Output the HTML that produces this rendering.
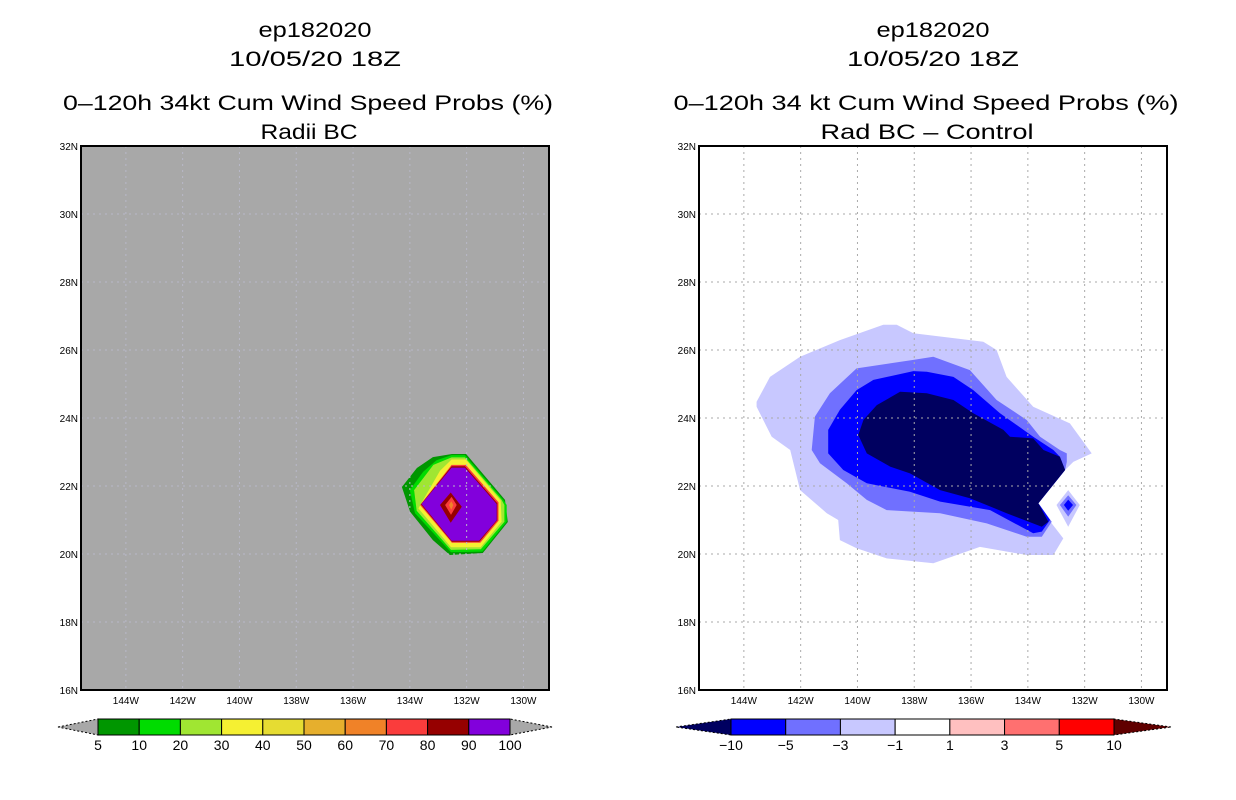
<!DOCTYPE html>
<html><head><meta charset="utf-8"><style>
body{margin:0;background:#fff;width:1236px;height:800px;overflow:hidden;font-family:"Liberation Sans",sans-serif}
svg{position:absolute;left:0;top:0}
</style></head><body>
<svg id="s" width="1236" height="800"></svg>
<script>
// ---- data ----
const latTicks=[16,18,20,22,24,26,28,30,32];
const lonTicks=[144,142,140,138,136,134,132,130];
const leftLevels=[5,10,20,30,70,80,90];
const leftColors=["#009600","#00dc00","#a0e632","#f5f032","#fa3c3c","#960000","#8200dc"];
const leftPolys=[
[[132.52,22.94],[132.02,22.94],[130.65,21.59],[130.55,20.94],[131.43,20.03],[132.59,19.97],[133.19,20.41],[133.99,21.24],[134.28,21.97],[133.75,22.53],[133.19,22.85]],
[[132.53,22.91],[132.06,22.91],[130.71,21.59],[130.59,21.44],[130.59,20.95],[131.44,20.07],[132.55,20.05],[133.0,20.46],[133.82,21.2],[134.0,21.88],[133.53,22.42],[133.06,22.76]],
[[132.53,22.84],[132.06,22.84],[130.77,21.59],[130.67,21.44],[130.67,20.95],[131.5,20.14],[132.55,20.12],[133.76,21.27],[133.85,21.88],[133.17,22.62]],
[[132.53,22.78],[132.03,22.78],[130.8,21.57],[130.77,20.95],[131.51,20.2],[132.55,20.2],[133.7,21.34],[132.94,22.45]],
[[132.53,22.62],[132.03,22.62],[130.88,21.52],[130.88,20.98],[131.52,20.33],[132.52,20.33],[133.64,21.44]],
[[132.53,22.58],[132.06,22.58],[130.92,21.49],[130.92,20.99],[131.55,20.36],[132.52,20.36],[133.61,21.46]],
[[132.53,22.54],[132.06,22.54],[130.94,21.47],[130.94,20.99],[131.56,20.39],[132.53,20.39],[133.59,21.47]]
];
const centerPolys=[
[[132.56,21.81],[132.17,21.39],[132.56,20.92],[132.94,21.44]],
[[132.53,21.68],[132.35,21.44],[132.55,21.15],[132.76,21.44]],
[[132.54,21.55],[132.47,21.44],[132.54,21.3],[132.62,21.44]]
];
const centerColors=["#960000","#fa3c3c","#f08228"];
const rightLevels=[-1,-3,-5,-10];
const rightColors=["#c8c8ff","#7070ff","#0000ff","#000060"];
const rightPolys=[
[[143.55,24.48],[143.08,25.21],[142.02,25.8],[140.62,26.29],[139.09,26.74],[138.62,26.74],[138.03,26.49],[135.57,26.24],[135.1,26.0],[134.75,25.21],[133.81,24.33],[132.52,23.84],[131.75,22.96],[132.4,22.71],[132.69,22.47],[133.63,21.49],[133.16,20.9],[132.75,20.46],[133.1,19.97],[134.04,19.97],[135.69,20.21],[137.33,19.73],[138.97,19.87],[140.03,20.17],[140.62,20.41],[140.68,21.0],[141.08,21.2],[142.02,21.88],[142.37,23.06],[143.02,23.45],[143.55,24.33]],
[[141.61,23.06],[141.5,24.04],[140.97,24.73],[140.03,25.46],[138.03,25.71],[137.33,25.8],[136.04,25.41],[135.1,24.53],[134.04,23.94],[133.57,23.45],[132.87,23.06],[132.63,22.96],[132.63,22.71],[132.69,22.47],[133.63,21.49],[133.16,20.95],[133.51,20.51],[134.04,20.51],[135.45,20.9],[137.09,21.2],[138.97,21.29],[139.67,21.59],[140.38,22.08],[141.32,22.67]],
[[141.03,22.96],[141.03,23.65],[140.62,24.24],[140.03,24.82],[139.44,25.12],[138.03,25.38],[137.56,25.36],[136.62,25.21],[135.92,24.82],[134.98,24.14],[133.81,23.45],[133.1,23.06],[132.87,22.86],[132.69,22.47],[133.63,21.49],[133.22,21.0],[133.51,20.66],[133.81,20.61],[135.33,21.29],[137.09,21.54],[138.15,21.83],[139.67,22.08],[140.5,22.47]],
[[139.97,23.5],[139.79,23.94],[139.32,24.38],[138.5,24.77],[137.56,24.73],[136.62,24.53],[135.92,24.14],[134.86,23.65],[134.63,23.45],[133.81,23.4],[133.45,23.06],[132.87,22.86],[132.69,22.47],[133.63,21.49],[133.28,20.95],[133.51,20.8],[134.75,21.2],[136.04,21.64],[137.09,21.88],[138.15,22.37],[138.85,22.57],[139.67,22.96]]
];
const rightSmall=[
[[132.58,21.88],[132.17,21.44],[132.58,20.8],[132.99,21.44]],
[[132.58,21.73],[132.29,21.44],[132.58,21.1],[132.87,21.44]],
[[132.58,21.6],[132.41,21.44],[132.58,21.27],[132.73,21.44]]
];
const leftCbLabels=["5","10","20","30","40","50","60","70","80","90","100"];
const leftCbColors=["#009600","#00dc00","#a0e632","#f5f032","#e6dc32","#e6af2d","#f08228","#fa3c3c","#960000","#8200dc"];
const rightCbLabels=["-10","-5","-3","-1","1","3","5","10"];
const rightCbColors=["#0000ff","#7070ff","#c8c8ff","#ffffff","#ffc0c0","#ff7070","#ff0000"];

// ---- drawing ----
const NS="http://www.w3.org/2000/svg";
const svg=document.getElementById('s');
function mk(tag,attrs,parent){const e=document.createElementNS(NS,tag);for(const k in attrs)e.setAttribute(k,attrs[k]);(parent||svg).appendChild(e);return e;}
const W=468,H=544,LON0=145.58,LON1=129.1;
function xs(x0){return lon=>x0+(LON0-lon)*(W/(LON0-LON1));}
function ys(lat){return 690-(lat-16)*(H/16);}
function poly(pts,fx,fill,name){
  const e=mk('polygon',{points:pts.map(p=>fx(p[0]).toFixed(1)+','+ys(p[1]).toFixed(1)).join(' '),fill:fill});
  
  
}
function text(x,y,s,size,anchor,name,len){
  const t=mk('text',{x:x,y:y,'font-size':size,'text-anchor':anchor||'middle',fill:'#000'});
  if(len){t.setAttribute('textLength',len);t.setAttribute('lengthAdjust','spacingAndGlyphs');}
  t.textContent=s;
  
  
}
function panel(x0,bg,title3,title4,lens,polys,colors,extra,extraColors,pname,gridColor){
  const fx=xs(x0);
  const r=mk('rect',{x:x0,y:146,width:W,height:H,fill:bg});
  
  
  polys.forEach((p,i)=>poly(p,fx,colors[i],pname+'-contour-'+i));
  extra.forEach((p,i)=>poly(p,fx,extraColors[i],pname+'-center-'+i));
  lonTicks.forEach(l=>{mk('line',{x1:fx(l),x2:fx(l),y1:146,y2:690,stroke:gridColor,'stroke-dasharray':'2,4','stroke-width':1});
    text(fx(l),704,l+'W',10,'middle',pname+'-x-tick');});
  latTicks.forEach(l=>{mk('line',{x1:x0,x2:x0+W,y1:ys(l),y2:ys(l),stroke:gridColor,'stroke-dasharray':'2,4','stroke-width':1});
    text(x0-3,ys(l)+4,l+'N',10,'end',pname+'-y-tick');});
  const b=mk('rect',{x:x0,y:146,width:W,height:H,fill:'none',stroke:'#000','stroke-width':2});
  
  
  const cx=x0+W/2;
  text(cx,37,'ep182020',21,'middle',pname+'-title-storm',113);
  text(cx,66,'10/05/20 18Z',21,'middle',pname+'-title-date',172);
  text(cx+(lens[2]),110,title3,21,'middle',pname+'-title-main',lens[0]);
  text(cx-6,139,title4,21,'middle',pname+'-title-sub',lens[1]);
}
panel(81,'#a8a8a8','0\u2013120h 34kt Cum Wind Speed Probs (%)','Radii BC',[490,97,-7],leftPolys,leftColors,centerPolys,centerColors,'left','#b8b8c8');
panel(699,'#ffffff','0\u2013120h 34 kt Cum Wind Speed Probs (%)','Rad BC \u2013 Control',[505,213,-7],rightPolys,rightColors,rightSmall,["#c8c8ff","#7070ff","#0000ff"],'right','#aaaaaa');

function colorbar(x0,x1,t0,t1,colors,labels,lc,rc,name){
  const n=colors.length,w=(x1-x0)/n,y=719,h=16;
  const a=mk('polygon',{points:`${t0},${y+h/2} ${x0},${y} ${x0},${y+h}`,fill:lc,stroke:'#000','stroke-dasharray':'2,2','stroke-width':1});
  
  const b=mk('polygon',{points:`${t1},${y+h/2} ${x1},${y} ${x1},${y+h}`,fill:rc,stroke:'#000','stroke-dasharray':'2,2','stroke-width':1});
  
  colors.forEach((c,i)=>{const r=mk('rect',{x:x0+i*w,y:y,width:w,height:h,fill:c,stroke:'#000','stroke-width':1});
    });
  labels.forEach((l,i)=>text(x0+i*w,750,l.replace('-','\u2212'),14,'middle',name+'-label'));
}
colorbar(98,510,58,552,leftCbColors,leftCbLabels,'#a8a8a8','#a8a8a8','left-colorbar');
colorbar(731,1114,676,1171,rightCbColors,rightCbLabels,'#000060','#600000','right-colorbar');
</script>
</body></html>
